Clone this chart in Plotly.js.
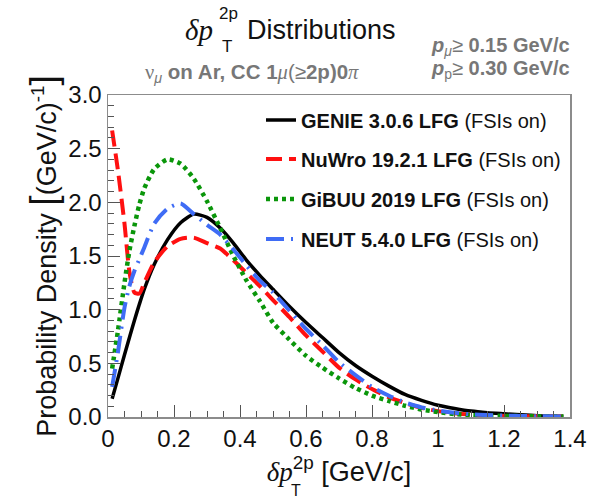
<!DOCTYPE html>
<html>
<head>
<meta charset="utf-8">
<script src="https://cdn.plot.ly/plotly-3.0.1.min.js"></script>
<style>
  html, body { margin: 0; padding: 0; background: #ffffff; }
  #chart { width: 600px; height: 502px; }
</style>
</head>
<body>
<div id="chart"></div>
<script>
// ---- data ----
const pT = [0.0125, 0.03, 0.05, 0.065, 0.08, 0.095, 0.11, 0.14, 0.18, 0.22, 0.26, 0.30, 0.34, 0.38, 0.42, 0.46, 0.50,
            0.55, 0.60, 0.65, 0.70, 0.75, 0.80, 0.85, 0.90, 0.95, 1.00, 1.05, 1.10, 1.15, 1.20, 1.25, 1.30, 1.38];

const genie = [0.17, 0.36, 0.58, 0.74, 0.90, 1.05, 1.19, 1.42, 1.65, 1.81, 1.89, 1.86, 1.76, 1.62, 1.46, 1.32, 1.19,
               1.03, 0.88, 0.74, 0.60, 0.48, 0.38, 0.29, 0.21, 0.155, 0.11, 0.08, 0.055, 0.04, 0.03, 0.02, 0.012, 0.006];

const nuwro = [2.67, 2.30, 1.80, 1.35, 1.16, 1.15, 1.25, 1.44, 1.59, 1.66, 1.67, 1.62, 1.57, 1.46, 1.34, 1.22, 1.09,
               0.93, 0.76, 0.61, 0.46, 0.35, 0.26, 0.185, 0.13, 0.085, 0.055, 0.035, 0.022, 0.015, 0.01, 0.008, 0.006, 0.004];

const gibuu = [0.45, 0.80, 1.25, 1.55, 1.78, 1.98, 2.13, 2.31, 2.40, 2.36, 2.22, 2.01, 1.76, 1.50, 1.27, 1.08, 0.88,
               0.72, 0.57, 0.46, 0.36, 0.27, 0.20, 0.15, 0.105, 0.07, 0.045, 0.028, 0.018, 0.012, 0.01, 0.008, 0.006, 0.004];

const neut  = [0.28, 0.60, 1.02, 1.22, 1.36, 1.47, 1.58, 1.80, 1.94, 1.99, 1.89, 1.79, 1.70, 1.56, 1.41, 1.27, 1.16,
               0.99, 0.82, 0.67, 0.51, 0.39, 0.28, 0.20, 0.135, 0.09, 0.06, 0.04, 0.025, 0.018, 0.013, 0.01, 0.007, 0.005];

const seriesNames = [
  '<b>GENIE 3.0.6 LFG</b> (FSIs on)',
  '<b>NuWro 19.2.1 LFG</b> (FSIs on)',
  '<b>GiBUU 2019 LFG</b> (FSIs on)',
  '<b>NEUT 5.4.0 LFG</b> (FSIs on)'
];
const xTickVals = [0, 0.2, 0.4, 0.6, 0.8, 1, 1.2, 1.4];
const yTickVals = [0, 0.5, 1.0, 1.5, 2.0, 2.5, 3.0];

// ---- geometry helpers (plot frame in pixels) ----
const L = 108, R = 570, T = 95, B = 417;
const px = x => (x - L) / (R - L);
const py = y => (B - y) / (B - T);

const SANS = 'Liberation Sans, Arial, sans-serif';
const SERIF = 'Liberation Serif, Times New Roman, serif';

const traces = [
  { x: pT, y: genie, name: seriesNames[0], legend: 'legend',
    line: { color: '#000000', width: 3.5, shape: 'spline', smoothing: 0.6 } },
  { x: pT, y: nuwro, name: seriesNames[1], legend: 'legend2',
    line: { color: '#ff1010', width: 4, dash: '16px,7px', shape: 'spline', smoothing: 0.6 } },
  { x: pT, y: gibuu, name: seriesNames[2], legend: 'legend3',
    line: { color: '#0a960a', width: 4.5, dash: '4px,4px', shape: 'spline', smoothing: 0.6 } },
  { x: pT, y: neut, name: seriesNames[3], legend: 'legend4',
    line: { color: '#3f6cf5', width: 4, dash: '18px,7px,2px,7px', shape: 'spline', smoothing: 0.6 } }
].map(t => Object.assign({ type: 'scatter', mode: 'lines', hoverinfo: 'skip' }, t));

function leg(yPix) {
  return {
    x: px(261), y: py(yPix), xref: 'paper', yref: 'paper',
    xanchor: 'left', yanchor: 'middle',
    bgcolor: 'rgba(0,0,0,0)', borderwidth: 0,
    font: { family: SANS, size: 20, color: '#111111' },
    itemwidth: 30, tracegroupgap: 0
  };
}

const annotations = [
  // title pieces
  { text: '<i>δp</i>', x: px(215), y: py(30), xanchor: 'right', yanchor: 'middle',
    font: { family: SERIF, size: 29, color: '#111' } },
  { text: '2p', x: px(217), y: py(13), xanchor: 'left', yanchor: 'middle',
    font: { family: SANS, size: 17, color: '#111' } },
  { text: 'T', x: px(220), y: py(46), xanchor: 'left', yanchor: 'middle',
    font: { family: SANS, size: 17, color: '#111' } },
  { text: 'Distributions', x: px(245), y: py(30), xanchor: 'left', yanchor: 'middle',
    font: { family: SANS, size: 27, color: '#111' } },
  // subtitle
  { text: '<span style="font-family:Liberation Serif">ν</span><sub><i>μ</i></sub> <b>on Ar, CC 1</b><span style="font-family:Liberation Serif"><i>μ</i></span>(≥<b>2p)0</b><span style="font-family:Liberation Serif"><i>π</i></span>',
    x: px(143), y: py(73), xanchor: 'left', yanchor: 'middle',
    font: { family: SANS, size: 20.5, color: '#777777' } },
  // cuts
  { text: '<b><i>p</i></b><sub><i>μ</i></sub>≥ <b>0.15 GeV/c</b>', x: px(572), y: py(46), xanchor: 'right', yanchor: 'middle',
    font: { family: SANS, size: 20, color: '#777777' } },
  { text: '<b><i>p</i></b><sub>p</sub>≥ <b>0.30 GeV/c</b>', x: px(572), y: py(70), xanchor: 'right', yanchor: 'middle',
    font: { family: SANS, size: 20, color: '#777777' } },
  // x-axis title subscript
  { text: 'T', x: px(289), y: py(491), xanchor: 'left', yanchor: 'middle',
    font: { family: SANS, size: 16, color: '#111' } }
].map(a => Object.assign({ xref: 'paper', yref: 'paper', showarrow: false }, a));

const layout = {
  width: 600, height: 502,
  margin: { l: L, r: 600 - R, t: T, b: 502 - B, pad: 0 },
  paper_bgcolor: '#ffffff', plot_bgcolor: '#ffffff',
  font: { family: SANS, color: '#111111' },
  showlegend: true,
  legend: leg(120), legend2: leg(159), legend3: leg(199), legend4: leg(239),
  xaxis: {
    range: [0, 1.4], tickvals: xTickVals, ticktext: xTickVals.map(v => String(v)),
    ticks: 'inside', ticklen: 12, tickwidth: 1, tickcolor: '#555',
    minor: { dtick: 0.05, ticks: 'inside', ticklen: 6, tickwidth: 1, tickcolor: '#555', showgrid: false },
    showline: true, mirror: true, linecolor: '#8c8c8c', linewidth: 1.5,
    showgrid: false, zeroline: false,
    tickfont: { family: SANS, size: 24, color: '#111' },
    title: { text: '<span style="font-family:Liberation Serif"><i>δp</i></span><sup>2p</sup> [GeV/c]',
             font: { family: SANS, size: 27, color: '#111' }, standoff: 10 }
  },
  yaxis: {
    range: [0, 3], tickvals: yTickVals, ticktext: yTickVals.map(v => v.toFixed(1)),
    ticks: 'inside', ticklen: 12, tickwidth: 1, tickcolor: '#555',
    minor: { dtick: 0.1, ticks: 'inside', ticklen: 6, tickwidth: 1, tickcolor: '#555', showgrid: false },
    showline: true, mirror: true, linecolor: '#8c8c8c', linewidth: 1.5,
    showgrid: false, zeroline: false,
    tickfont: { family: SANS, size: 24, color: '#111' },
    title: { text: 'Probability Density <span style="font-size:37px">[</span>(GeV/c)<sup>-1</sup><span style="font-size:37px">]</span>',
             font: { family: SANS, size: 27, color: '#111' }, standoff: 4 }
  },
  annotations: annotations
};

Plotly.newPlot('chart', traces, layout, { staticPlot: true, displayModeBar: false });
</script>
</body>
</html>
